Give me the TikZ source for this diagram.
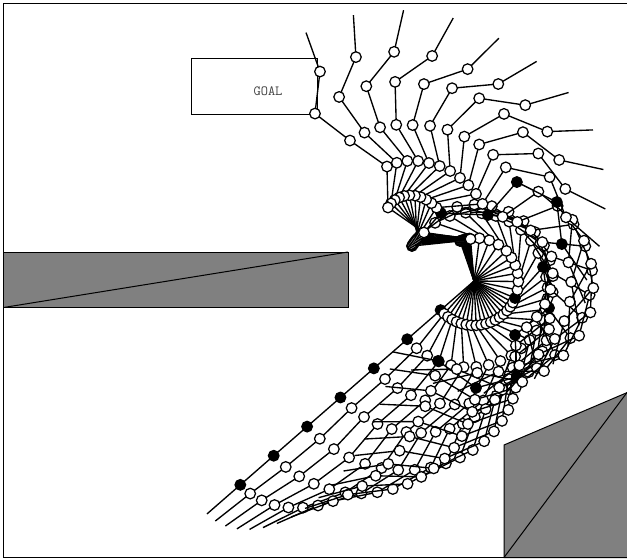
\documentclass[tikz,border=0pt]{standalone}
\usepackage{fontspec}
\usetikzlibrary{calc}
\definecolor{wallCol}{HTML}{808080}
\tikzset{
  frameline/.style={line width=1pt},
  wall/.style={draw=black, fill=wallCol, line width=1pt},
  arm/.style={line width=1.35pt, line join=round},
  joint/.style={draw=black, line width=1.25pt},
  goalbox/.style={draw=black, line width=1pt},
  goallbl/.style={font=\ttfamily\fontsize{14}{16}\selectfont, text=black!75, inner sep=0pt},
}
% link angles and lengths of the key poses
\def\angA{221.1,221.1,221.1,221.1,221.1,221.1,221.1,221.1}
\def\lenA{44.3,44.3,44.3,44.3,44.3,44.3,44.3,44.3}
\def\angB{337.5,407.9,278.3,218.5,272.7,195,144.6,168.7}
\def\lenB{44.4,41.8,41.4,43.4,42,42.5,46.6,45.9}
\def\angBm{402.9,483.2,349.4,308.2,341,267.7,216.7,242.9}
\def\lenBm{44.2,45,42.6,45,43,42,44.4,44.9}
\def\angC{469.3,546,408.7,357.6,408.7,333.4,276.8,304.8}
\def\lenC{42.4,48.3,43.9,47,43.9,44.7,42.3,43.8}
\def\angCq{464,540.9,443.8,385.9,444,389.8,337.8,362.1}
\def\lenCq{42.3,48,43.9,43.9,41.5,45.7,46.8,45.7}
\def\angCm{460.1,537.1,470.1,413,473.2,434.6,378.9,404.7}
\def\lenCm{42.2,47.5,43.8,41.2,41.3,42.5,46.2,44}
\def\angD{454.8,532,505.2,451.4,504.9,502.4,443.2,469.7}
\def\lenD{42.1,47,43.8,41,45.2,44.2,42.3,41.4}
\newcommand{\armsweep}[6]{%
  \pgfmathtruncatemacro{\lastS}{#5-1}
  \foreach \s in {0,...,\lastS}{
    \pgfmathsetmacro{\ratio}{\s/#5}
    \coordinate (j0) at (474,281);
    \foreach \i [remember=\i as \prev (initially 0)] in {1,...,8}{
      \pgfmathsetmacro{\linkang}{{#1}[\i-1]*(1-\ratio)+{#3}[\i-1]*\ratio}
      \pgfmathsetmacro{\linklen}{{#2}[\i-1]*(1-\ratio)+{#4}[\i-1]*\ratio}
      \coordinate (j\i) at ($(j\prev)+(-\linkang:\linklen)$);
    }
    \draw[arm] (j0)--(j1)--(j2)--(j3)--(j4)--(j5)--(j6)--(j7)--(j8);
    \ifnum\s=0\def\jointCol{#6}\else\def\jointCol{white}\fi
    \foreach \i in {1,...,7}{\draw[joint, fill=\jointCol] (j\i) circle (5.3pt);}
  }}

\begin{document}
\begin{tikzpicture}[x=1pt,y=-1pt]
  \useasboundingbox (0,0) rectangle (627,560);
  \clip (0,0) rectangle (627,560);
  \draw[frameline] (3.5,3.5) rectangle (632,557.5);

  \draw[wall] (3.5,252) -- (348,252) -- (348,307.5) -- (3.5,307.5) -- cycle;
  \draw[frameline] (3.5,307.5) -- (348,252);
  \draw[wall] (504,445) -- (632,390.5) -- (632,557.5) -- (504,557.5) -- cycle;
  \draw[frameline] (504,557.5) -- (627,392.5);

  \draw[goalbox] (191,58.5) rectangle (317,114);
  \node[goallbl] (goal) at (268,91) {GOAL};

  \armsweep{\angA}{\lenA}{\angB}{\lenB}{18}{black}
  \armsweep{\angB}{\lenB}{\angBm}{\lenBm}{6}{black}
  \armsweep{\angBm}{\lenBm}{\angC}{\lenC}{5}{white}
  \armsweep{\angC}{\lenC}{\angCq}{\lenCq}{4}{black}
  \armsweep{\angCq}{\lenCq}{\angCm}{\lenCm}{3}{white}
  \armsweep{\angCm}{\lenCm}{\angD}{\lenD}{4}{white}
  \armsweep{\angD}{\lenD}{\angD}{\lenD}{1}{white}
\end{tikzpicture}
\end{document}
